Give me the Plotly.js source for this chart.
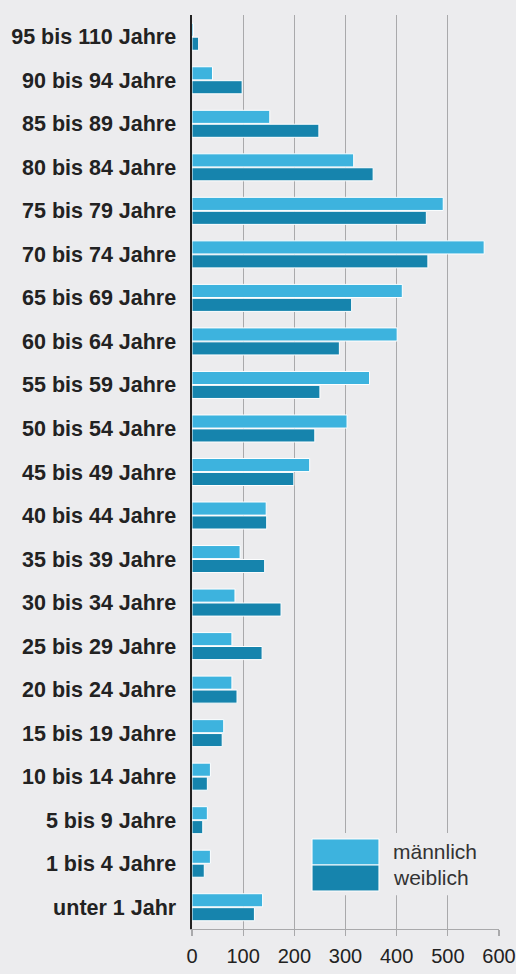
<!DOCTYPE html>
<html>
<head>
<meta charset="utf-8">
<script src="https://cdn.plot.ly/plotly-3.0.1.min.js"></script>
<style>
  html, body { margin: 0; padding: 0; background: #ececee; }
  #graph { width: 516px; height: 974px; }
</style>
</head>
<body>
<div id="graph"></div>
<script>
// Altersgruppen von oben nach unten
const altersgruppen = [
  '95 bis 110 Jahre', '90 bis 94 Jahre', '85 bis 89 Jahre', '80 bis 84 Jahre',
  '75 bis 79 Jahre', '70 bis 74 Jahre', '65 bis 69 Jahre', '60 bis 64 Jahre',
  '55 bis 59 Jahre', '50 bis 54 Jahre', '45 bis 49 Jahre', '40 bis 44 Jahre',
  '35 bis 39 Jahre', '30 bis 34 Jahre', '25 bis 29 Jahre', '20 bis 24 Jahre',
  '15 bis 19 Jahre', '10 bis 14 Jahre', '5 bis 9 Jahre', '1 bis 4 Jahre',
  'unter 1 Jahr'
];

const maennlich = [3, 40, 152, 316, 491, 571, 411, 401, 347, 303, 230, 145,
                   94, 84, 78, 78, 62, 36, 30, 36, 138];
const weiblich  = [13, 98, 248, 354, 458, 461, 312, 288, 250, 240, 199, 146,
                   142, 174, 137, 88, 59, 30, 21, 24, 122];

const xTicks = [0, 100, 200, 300, 400, 500, 600];

const farbeM = '#3db3de';
const farbeW = '#1684ad';
const hintergrund = '#ececee';

let data = [
  {
    type: 'bar',
    orientation: 'h',
    name: 'männlich',
    y: altersgruppen,
    x: maennlich,
    marker: { color: farbeM, line: { color: '#ffffff', width: 1 } }
  },
  {
    type: 'bar',
    orientation: 'h',
    name: 'weiblich',
    y: altersgruppen,
    x: weiblich,
    marker: { color: farbeW, line: { color: '#ffffff', width: 1 } }
  }
];

// eigene Legende mit grossen Farbfeldern
let shapes = [
  { type: 'rect', xref: 'paper', yref: 'paper', x0: 0.368, x1: 0.961, y0: 0.037, y1: 0.105,
    fillcolor: hintergrund, line: { width: 0 }, layer: 'above' },
  { type: 'rect', xref: 'paper', yref: 'paper', x0: 0.391, x1: 0.609, y0: 0.070, y1: 0.0985,
    fillcolor: farbeM, line: { color: '#ffffff', width: 1 }, layer: 'above' },
  { type: 'rect', xref: 'paper', yref: 'paper', x0: 0.391, x1: 0.609, y0: 0.0416, y1: 0.070,
    fillcolor: farbeW, line: { color: '#ffffff', width: 1 }, layer: 'above' }
];

let annotations = [
  { xref: 'paper', yref: 'paper', x: 0.648, y: 0.0848, xanchor: 'left', yanchor: 'middle',
    text: 'männlich', showarrow: false, font: { family: 'Liberation Sans, Arial, sans-serif', size: 21, color: '#333333' } },
  { xref: 'paper', yref: 'paper', x: 0.648, y: 0.0558, xanchor: 'left', yanchor: 'middle',
    text: 'weiblich', showarrow: false, font: { family: 'Liberation Sans, Arial, sans-serif', size: 21, color: '#333333' } }
];

let layout = {
  width: 516,
  height: 974,
  margin: { l: 192, r: 17, t: 15, b: 45 },
  paper_bgcolor: hintergrund,
  plot_bgcolor: hintergrund,
  showlegend: false,
  barmode: 'group',
  bargap: 0.36,
  bargroupgap: 0.06,
  font: { family: 'Liberation Sans, Arial, sans-serif', color: '#222222' },
  xaxis: {
    range: [0, 600],
    tickvals: xTicks,
    ticktext: xTicks.map(String),
    showgrid: true,
    gridcolor: '#a9a9ab',
    gridwidth: 1.3,
    zeroline: false,
    showline: true,
    linecolor: '#a9a9ab',
    linewidth: 1.3,
    ticks: 'outside',
    ticklen: 6,
    tickcolor: '#a9a9ab',
    tickwidth: 1.3,
    ticklabelstandoff: 3,
    tickfont: { size: 20, color: '#222222' },
    fixedrange: true
  },
  yaxis: {
    type: 'category',
    autorange: 'reversed',
    showgrid: false,
    zeroline: false,
    showline: true,
    linecolor: '#222222',
    linewidth: 2.5,
    ticks: '',
    ticklabelstandoff: 9,
    tickfont: { size: 21.5, color: '#222222', weight: 'bold' },
    fixedrange: true
  },
  shapes: shapes,
  annotations: annotations
};

Plotly.newPlot('graph', data, layout, { displayModeBar: false, staticPlot: true });
</script>
</body>
</html>
